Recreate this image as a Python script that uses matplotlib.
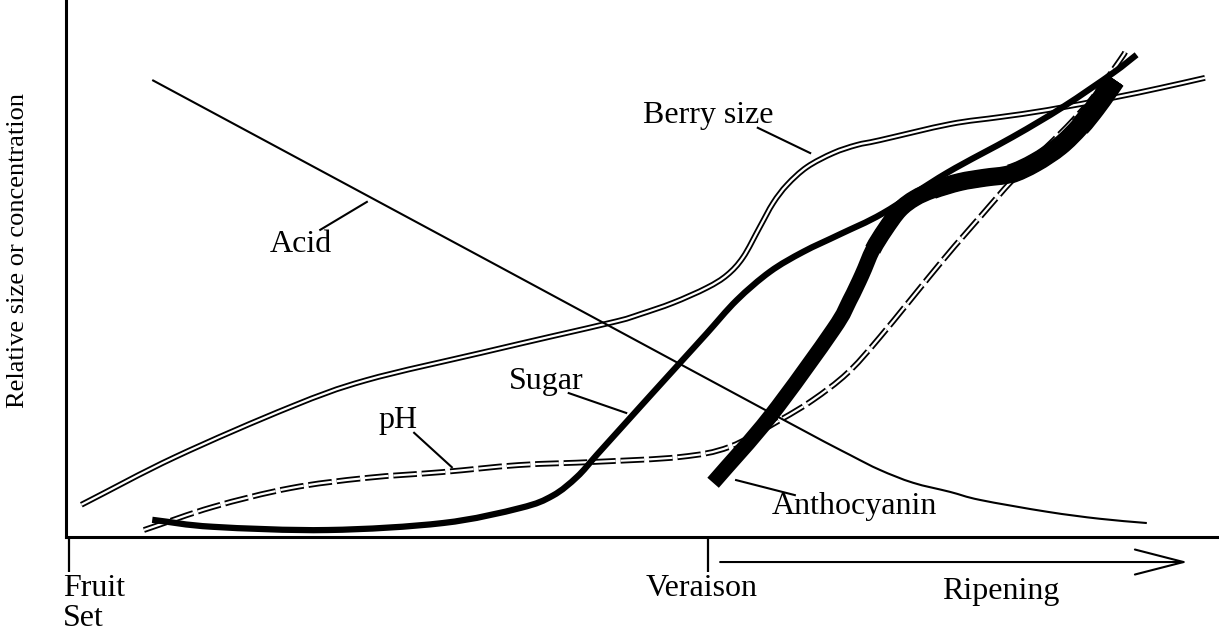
import numpy as np
import matplotlib
matplotlib.use('Agg')
import matplotlib.pyplot as plt
from matplotlib.path import Path
from matplotlib.patches import PathPatch
from matplotlib.transforms import ScaledTranslation

# x: weeks after fruit set (veraison = 10), y: relative size / concentration (0-100)
berry_x = [0.19, 1.66, 3.46, 4.65, 6.45, 7.53, 8.58, 8.94, 9.45, 9.98, 10.30, 10.55, 10.81,
           11.02, 11.24, 11.55, 11.96, 12.33, 12.69, 13.79, 14.57, 15.31, 16.34, 17.07, 17.78]
berry_y = [6.0, 14.9, 24.2, 29.2, 34.3, 37.3, 40.2, 41.5, 43.6, 46.4, 48.8, 52.1, 57.7,
           62.2, 65.6, 68.9, 71.5, 73.0, 73.9, 76.9, 78.2, 79.5, 81.8, 83.6, 85.5]

acid_x = [1.30, 6.74, 11.28, 12.22, 12.69, 13.21, 13.79, 14.26, 15.31, 16.13, 16.87]
acid_y = [85.1, 50.3, 21.2, 15.3, 12.5, 10.1, 8.4, 6.9, 4.7, 3.4, 2.6]

sugar_x = [1.30, 2.25, 4.05, 5.85, 7.06, 7.57, 7.95, 8.26, 8.73, 9.14, 9.56, 9.98,
           10.45, 10.97, 11.49, 12.07, 12.74, 13.74, 14.77, 15.56, 16.34, 16.71]
sugar_y = [3.2, 1.9, 1.3, 2.6, 5.4, 7.7, 11.2, 15.3, 21.5, 26.9, 32.4, 37.9,
           44.1, 49.4, 53.1, 56.4, 60.3, 67.8, 74.5, 80.1, 86.4, 89.8]

ph_x = [1.17, 2.25, 3.46, 4.65, 5.85, 7.04, 8.25, 9.56, 10.34, 11.13, 11.64, 12.18,
        12.69, 13.68, 14.26, 14.77, 15.20, 15.62, 16.03, 16.45, 16.53]
ph_y = [1.3, 5.6, 9.1, 11.0, 12.1, 13.4, 14.0, 14.9, 16.8, 21.8, 25.5, 30.5,
        37.2, 51.6, 59.6, 66.5, 71.5, 76.4, 81.9, 88.8, 90.3]

antho_x = [10.08, 10.97, 11.96, 12.22, 12.41, 12.58, 12.77, 13.00, 13.24, 13.52, 13.94,
           14.33, 14.73, 15.12, 15.51, 15.82, 16.06, 16.26, 16.37]
antho_y = [10.1, 22.4, 38.6, 44.1, 48.8, 53.5, 57.2, 60.9, 63.1, 64.6, 66.1,
           66.9, 67.6, 69.7, 72.8, 76.4, 79.9, 83.2, 85.1]

label_names = ['Berry size', 'Acid', 'Sugar', 'pH', 'Anthocyanin']
label_pos = [(10.0, 77.1), (3.62, 53.1), (7.46, 27.6), (5.15, 20.3), (12.30, 4.3)]
leader_from = [(10.78, 76.2), (3.93, 57.2), (7.82, 26.8), (5.40, 19.4), (10.44, 10.6)]
leader_to = [(11.60, 71.5), (4.66, 62.4), (8.72, 23.1), (5.99, 13.0), (11.36, 7.8)]

stage_ticks = [0, 10]
stage_labels = ['Fruit\nSet', 'Veraison']
ripening_span = (10.19, 17.51)

plt.rcParams['font.family'] = ['Liberation Serif', 'DejaVu Serif']
plt.rcParams['lines.scale_dashes'] = False
FS = 23

fig = plt.figure(figsize=(12.19, 6.31), dpi=100)
ax = fig.add_axes([66 / 1219, 94 / 631, 1153 / 1219, 537 / 631])
ax.set_xlim(-0.05, 18.0)
ax.set_ylim(0, 100)


def smooth_path(x, y, start=0):
    # Catmull-Rom curve through the read points, as cubic Bezier pieces
    p = np.column_stack([x, y]).astype(float)
    ext = np.vstack([2 * p[0] - p[1], p, 2 * p[-1] - p[-2]])
    verts = [p[start]]
    codes = [Path.MOVETO]
    for i in range(start + 1, len(p)):
        p0, p1, p2, p3 = ext[i - 1], ext[i], ext[i + 1], ext[i + 2]
        verts += [p1 + (p2 - p0) / 6, p2 - (p3 - p1) / 6, p2]
        codes += [Path.CURVE4] * 3
    return Path(verts, codes)


def curve(x, y, lw, color='black', ls='-', z=3, start=0):
    ax.add_patch(PathPatch(smooth_path(x, y, start), fill=False, ec=color, lw=lw,
                           ls=ls, capstyle='butt', joinstyle='round', zorder=z))


dash = (0, (17, 3.5))
# double lines: black stroke with white centre
curve(berry_x, berry_y, 4.2, z=2)
curve(berry_x, berry_y, 1.6, color='white', z=2.1)
curve(ph_x, ph_y, 4.2, ls=dash, z=2)
curve(ph_x, ph_y, 1.6, color='white', ls=dash, z=2.1)

curve(acid_x, acid_y, 1.5)
curve(sugar_x, sugar_y, 4.5)

# anthocyanin gets thicker towards the end of ripening
for k, w in zip([0, 5, 9, 12, 15], [11, 12, 13, 14, 15]):
    curve(antho_x, antho_y, w, z=4, start=k)

# curve labels with leader lines
for name, pos, p0, p1 in zip(label_names, label_pos, leader_from, leader_to):
    ax.text(pos[0], pos[1], name, ha='center', va='baseline', fontsize=FS)
    ax.plot([p0[0], p1[0]], [p0[1], p1[1]], color='black', lw=1.5, clip_on=False)

# axes
for s in ['top', 'right']:
    ax.spines[s].set_visible(False)
for s in ['left', 'bottom']:
    ax.spines[s].set_linewidth(2.2)
ax.set_yticks([])
ax.set_xticks(stage_ticks)
ax.set_xticklabels(stage_labels, fontsize=FS, linespacing=1.0)
ax.tick_params(axis='x', direction='out', length=25, width=1.6, pad=2)
tl = ax.get_xticklabels()
tl[0].set_ha('left')
for lab in tl:
    lab.set_transform(lab.get_transform() + ScaledTranslation(-0.06, 0, fig.dpi_scale_trans))

fig.text(18 / 1219, 1 - 250 / 631, 'Relative size or concentration', rotation=90,
         ha='center', va='center', fontsize=19)

ax.annotate('', xy=(ripening_span[1], -4.66), xytext=(ripening_span[0], -4.66),
            xycoords='data', annotation_clip=False,
            arrowprops=dict(arrowstyle='->,head_length=1.75,head_width=0.45',
                            mutation_scale=20, lw=1.5, color='black',
                            shrinkA=0, shrinkB=0))
ax.text(14.59, -11.55, 'Ripening', ha='center', va='baseline', fontsize=FS, clip_on=False)

fig.savefig('out.png', dpi=100)
